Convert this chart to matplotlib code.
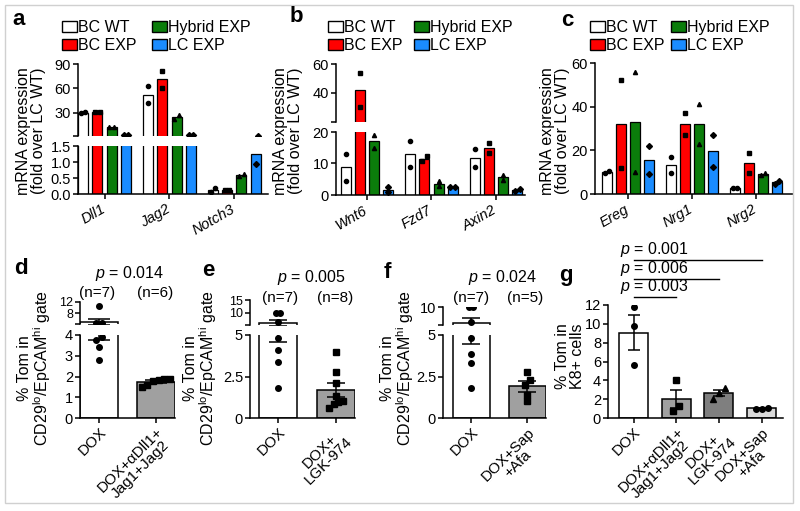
import matplotlib
matplotlib.use('Agg')
import matplotlib.pyplot as plt
import matplotlib.transforms as mtransforms
from matplotlib.patches import Rectangle
import numpy as np

plt.rcParams['font.family'] = ['Liberation Sans', 'DejaVu Sans']
plt.rcParams['mathtext.fontset'] = 'custom'
plt.rcParams['mathtext.rm'] = 'Liberation Sans'
plt.rcParams['mathtext.it'] = 'Liberation Sans:italic'
plt.rcParams['axes.linewidth'] = 1.1
plt.rcParams['xtick.major.width'] = 1.1
plt.rcParams['ytick.major.width'] = 1.1
plt.rcParams['xtick.major.size'] = 3.5
plt.rcParams['ytick.major.size'] = 3.5
plt.rcParams['xtick.labelsize'] = 10.5
plt.rcParams['ytick.labelsize'] = 10.5

# ---------------- data ----------------
series_names = ['BC WT', 'BC EXP', 'Hybrid EXP', 'LC EXP']
series_colors = ['white', '#ff0000', '#0b7d0b', '#1a8cff']
series_markers = ['o', 's', '^', 'D']

# panel a: two replicates per gene
genes_a = ['Dll1', 'Jag2', 'Notch3']
a_bc_wt = [[30, 30.5], [63, 42], [0.07, 0.18]]
a_bc_exp = [[31, 31.5], [82, 60], [0.12, 0.14]]
a_hybrid = [[12, 13], [22, 27], [0.55, 0.64]]
a_lc = [[2.5, 2.5], [2.5, 3], [0.95, 1.55]]

# panel b
genes_b = ['Wnt6', 'Fzd7', 'Axin2']
b_bc_wt = [[13, 4.5], [17, 8.8], [14.5, 9]]
b_bc_exp = [[53.5, 30], [12.3, 10.8], [16.5, 13.2]]
b_hybrid = [[19, 15], [4.5, 2.8], [6.5, 4.8]]
b_lc = [[2.5, 0.8], [2.4, 2.4], [1.4, 1.9]]

# panel c
genes_c = ['Ereg', 'Nrg1', 'Nrg2']
c_bc_wt = [[9.8, 10.5], [17, 9.5], [2.8, 2.8]]
c_bc_exp = [[52, 12], [37, 27], [19, 9.5]]
c_hybrid = [[56, 10], [41, 23], [8.5, 9.8]]
c_lc = [[22, 9], [27, 12.5], [4.8, 6]]

# panels d-g: % Tom cells
d_labels = ['DOX', 'DOX+\u03b1Dll1+\nJag1+Jag2']
d_dox = [10.6, 4.5, 4.4, 3.9, 3.75, 3.4, 2.8]
d_treat = [1.9, 1.88, 1.85, 1.8, 1.6, 1.5]

e_labels = ['DOX', 'DOX+\nLGK-974']
e_dox = [10, 10, 6.4, 4.8, 4.1, 3.4, 1.8]
e_treat = [3.95, 2.75, 2.1, 1.3, 1.0, 0.95, 0.85, 0.6]

f_labels = ['DOX', 'DOX+Sap\n+Afa']
f_dox = [10, 10, 5.8, 4.8, 3.85, 3.3, 1.8]
f_treat = [2.8, 2.3, 2.0, 1.4, 1.0]

g_labels = ['DOX', 'DOX+\u03b1Dll1+\nJag1+Jag2', 'DOX+\nLGK-974', 'DOX+Sap\n+Afa']
g_dox = [11.8, 9.8, 5.6]
g_dll = [4.0, 1.27, 0.78]
g_lgk = [3.2, 2.7, 2.0]
g_sap = [1.1, 1.0, 0.95]
g_pvals = ['0.001', '0.006', '0.003']
g_compare = [3, 2, 1]

W, H = 800, 511
fig = plt.figure(figsize=(8, 5.11), dpi=100)


def px_axes(x0, y0, x1, y1):
    return fig.add_axes([x0 / W, 1 - y1 / H, (x1 - x0) / W, (y1 - y0) / H])


def ftext(x, y, s, **kw):
    return fig.text(x / W, 1 - y / H, s, **kw)


def spread(vals, tol, step):
    """symmetric horizontal offsets for points with close values"""
    vals = np.asarray(vals, float)
    order = np.argsort(vals)
    offs = np.zeros(len(vals))
    cluster = [order[0]]
    for prev, cur in zip(order[:-1], order[1:]):
        if vals[cur] - vals[prev] <= tol:
            cluster.append(cur)
        else:
            for j, idx in enumerate(cluster):
                offs[idx] = (j - (len(cluster) - 1) / 2) * step
            cluster = [cur]
    for j, idx in enumerate(cluster):
        offs[idx] = (j - (len(cluster) - 1) / 2) * step
    return offs


def style_axes(ax, upper=False):
    ax.spines['top'].set_visible(False)
    ax.spines['right'].set_visible(False)
    ax.tick_params(direction='out', pad=1.5)
    ax.patch.set_alpha(0)
    if upper:
        ax.spines['bottom'].set_visible(False)
        ax.tick_params(axis='x', bottom=False, labelbottom=False)


def grouped_panel(axes, genes, series, xlim):
    x = np.arange(len(genes))
    offs = (np.arange(len(series)) - (len(series) - 1) / 2) * 0.22
    shift = mtransforms.ScaledTranslation(-4 / 100, -1 / 100, fig.dpi_scale_trans)
    for ax in axes:
        lo, hi = ax.get_ylim()
        tol = 0.08 * (hi - lo)
        for k, reps in enumerate(series):
            for i, r in enumerate(reps):
                m = np.mean(r)
                if m > lo:
                    ax.bar(x[i] + offs[k], m, width=0.155, color=series_colors[k],
                           edgecolor='black', linewidth=0.9, zorder=2)
                r = np.asarray(r, float)
                dx = spread(r, tol, 0.07)
                keep = (r >= lo) & (r <= hi)
                ax.plot((x[i] + offs[k] + dx)[keep], r[keep], ls='none',
                        marker=series_markers[k], ms=3, color='black', zorder=3)
        ax.set_xlim(*xlim)
        style_axes(ax, upper=(ax is not axes[-1]))
    low = axes[-1]
    low.set_xticks(x)
    low.set_xticklabels(genes, rotation=30, ha='right', rotation_mode='anchor',
                        fontstyle='italic', fontsize=10.5)
    for lab in low.get_xticklabels():
        lab.set_transform(lab.get_transform() + shift)


def dot_panel(axes, groups, labels, colors, markers, xlim, width, step, capsize):
    x = np.arange(len(groups))
    for ax in axes:
        lo, hi = ax.get_ylim()
        tol = 0.06 * (hi - lo)
        for i, vals in enumerate(groups):
            vals = np.asarray(vals, float)
            m = vals.mean()
            sem = vals.std(ddof=1) / np.sqrt(len(vals))
            if m > lo:
                ax.bar(i, m, width, color=colors[i], edgecolor='black', linewidth=1.1, zorder=1)
            dx = spread(vals, tol, step)
            keep = (vals >= lo) & (vals <= hi)
            ax.plot((i + dx)[keep], vals[keep], ls='none', marker=markers[i],
                    ms=4, color='black', zorder=3)
            if m + sem > lo:
                ax.errorbar(i, m, yerr=sem, color='black', capsize=capsize,
                            elinewidth=1.1, capthick=1.1, zorder=4)
        ax.set_xlim(*xlim)
        style_axes(ax, upper=(ax is not axes[-1]))
    low = axes[-1]
    low.set_xticks(x)
    low.set_xticklabels(labels, rotation=45, ha='right', rotation_mode='anchor',
                        multialignment='center', fontsize=11, linespacing=0.95)


# ---------------- panel a ----------------
a_up = px_axes(78, 64, 268, 136)
a_low = px_axes(78, 146, 268, 194)
a_up.set_ylim(1.5, 90)
a_low.set_ylim(0, 1.5)
grouped_panel([a_up, a_low], genes_a, [a_bc_wt, a_bc_exp, a_hybrid, a_lc], (-0.41, 2.52))
a_up.set_yticks([1.5, 30, 60, 90], ['', '30', '60', '90'])
a_low.set_yticks([0, 0.5, 1.0, 1.5], ['0.0', '0.5', '1.0', '1.5'])

# ---------------- panel b ----------------
b_up = px_axes(336, 64, 525, 122)
b_low = px_axes(336, 132, 525, 195)
b_up.set_ylim(20, 60)
b_low.set_ylim(0, 20)
grouped_panel([b_up, b_low], genes_b, [b_bc_wt, b_bc_exp, b_hybrid, b_lc], (-0.48, 2.45))
b_up.set_yticks([20, 40, 60], ['', '40', '60'])
b_low.set_yticks([0, 10, 20])

# ---------------- panel c ----------------
c_ax = px_axes(595, 63, 793, 194)
c_ax.set_ylim(0, 60)
grouped_panel([c_ax], genes_c, [c_bc_wt, c_bc_exp, c_hybrid, c_lc], (-0.52, 2.58))
c_ax.set_yticks([0, 20, 40, 60])

# legends for a-c
for lx, col2 in [(62, 152), (328, 414), (590, 671)]:
    for k, name in enumerate(series_names):
        px = lx if k < 2 else col2
        py = 27 if k % 2 == 0 else 45
        fig.patches.append(Rectangle((px / W, 1 - (py + 5.5) / H), 15 / W, 11 / H,
                                     transform=fig.transFigure, facecolor=series_colors[k],
                                     edgecolor='black', linewidth=1.0))
        ftext(px + 16, py, name, fontsize=11.5, va='center', ha='left')

for xc in (31, 288, 555):
    ftext(xc, 131, 'mRNA expression\n(fold over LC WT)', rotation=90, fontsize=11.5,
          ha='center', va='center', multialignment='center', linespacing=0.95)

# ---------------- panel d ----------------
d_up = px_axes(80, 302, 175, 324)
d_low = px_axes(80, 335, 175, 418)
d_up.set_ylim(4, 12)
d_low.set_ylim(0, 4)
dot_panel([d_up, d_low], [d_dox, d_treat], d_labels, ['white', '#a0a0a0'], ['o', 's'],
          (-0.335, 1.335), 0.67, 0.1, 8)
d_up.set_yticks([4, 8, 12], ['', '8', '12'])
d_up.tick_params(axis='y', labelsize=9)
d_low.set_yticks([0, 1, 2, 3, 4])

# ---------------- panel e ----------------
e_up = px_axes(250, 300, 355, 325)
e_low = px_axes(250, 335, 355, 418)
e_up.set_ylim(5, 15)
e_low.set_ylim(0, 5)
dot_panel([e_up, e_low], [e_dox, e_treat], e_labels, ['white', '#a0a0a0'], ['o', 's'],
          (-0.48, 1.33), 0.66, 0.08, 6.5)
e_up.set_yticks([5, 10, 15], ['', '10', '15'])
e_up.tick_params(axis='y', labelsize=9)
e_low.set_yticks([0, 2.5, 5], ['0', '2.5', '5'])

# ---------------- panel f ----------------
f_up = px_axes(443, 307, 546, 325)
f_low = px_axes(443, 335, 546, 418)
f_up.set_ylim(5, 10)
f_low.set_ylim(0, 5)
dot_panel([f_up, f_low], [f_dox, f_treat], f_labels, ['white', '#a0a0a0'], ['o', 's'],
          (-0.5, 1.33), 0.66, 0.08, 6.5)
f_up.set_yticks([5, 10], ['', '10'])
f_low.set_yticks([0, 2.5, 5], ['0', '2.5', '5'])

# ---------------- panel g ----------------
g_ax = px_axes(608, 305, 783, 418)
g_ax.set_ylim(0, 12)
dot_panel([g_ax], [g_dox, g_dll, g_lgk, g_sap], g_labels,
          ['white', '#a0a0a0', '#7f7f7f', '#d9d9d9'], ['o', 's', '^', 'o'],
          (-0.6, 3.5), 0.68, 0.14, 4.5)
g_ax.set_yticks([0, 2, 4, 6, 8, 10, 12])

trans = mtransforms.blended_transform_factory(g_ax.transData, fig.transFigure)
for j, (pv, k) in enumerate(zip(g_pvals, g_compare)):
    ly = 260 + 18.5 * j
    g_ax.plot([0, k], [1 - ly / H] * 2, transform=trans, color='black', lw=1.0, clip_on=False)
    ftext(620, ly - 1, r'$p$ = ' + pv, fontsize=11.5, ha='left', va='bottom')

# p / n annotations d-f
for px_, py_, s in [(130, 273, '0.014'), (311, 277, '0.005'), (503, 277, '0.024')]:
    ftext(px_, py_, r'$p$ = ' + s, fontsize=11.5, ha='center', va='center')
for px_, py_, s in [(97, 293, '(n=7)'), (155, 293, '(n=6)'), (280, 298, '(n=7)'),
                    (335, 298, '(n=8)'), (471, 298, '(n=7)'), (525, 298, '(n=5)')]:
    ftext(px_, py_, s, fontsize=11, ha='center', va='center')

gate = '% Tom in\nCD29$^{\\rm lo}$/EpCAM$^{\\rm hi}$ gate'
for xc in (35, 201, 398):
    ftext(xc, 368, gate, rotation=90, fontsize=11.5, ha='center', va='center',
          multialignment='center', linespacing=0.95)
ftext(570, 356, '% Tom in\nK8+ cells', rotation=90, fontsize=11.5, ha='center',
      va='center', multialignment='center', linespacing=0.95)

# panel letters
for s, x, y in [('a', 19, 19), ('b', 296, 17), ('c', 567, 20), ('d', 21, 268),
                ('e', 208, 270), ('f', 387, 272), ('g', 566, 276)]:
    ftext(x, y, s, fontsize=16, fontweight='bold', ha='center', va='center')

# outer frame
fig.patches.append(Rectangle((5 / W, 1 - 503 / H), 788 / W, 498 / H, transform=fig.transFigure,
                             fill=False, edgecolor='#d0d0d0', linewidth=1.0))

fig.savefig('out.png', dpi=100)
